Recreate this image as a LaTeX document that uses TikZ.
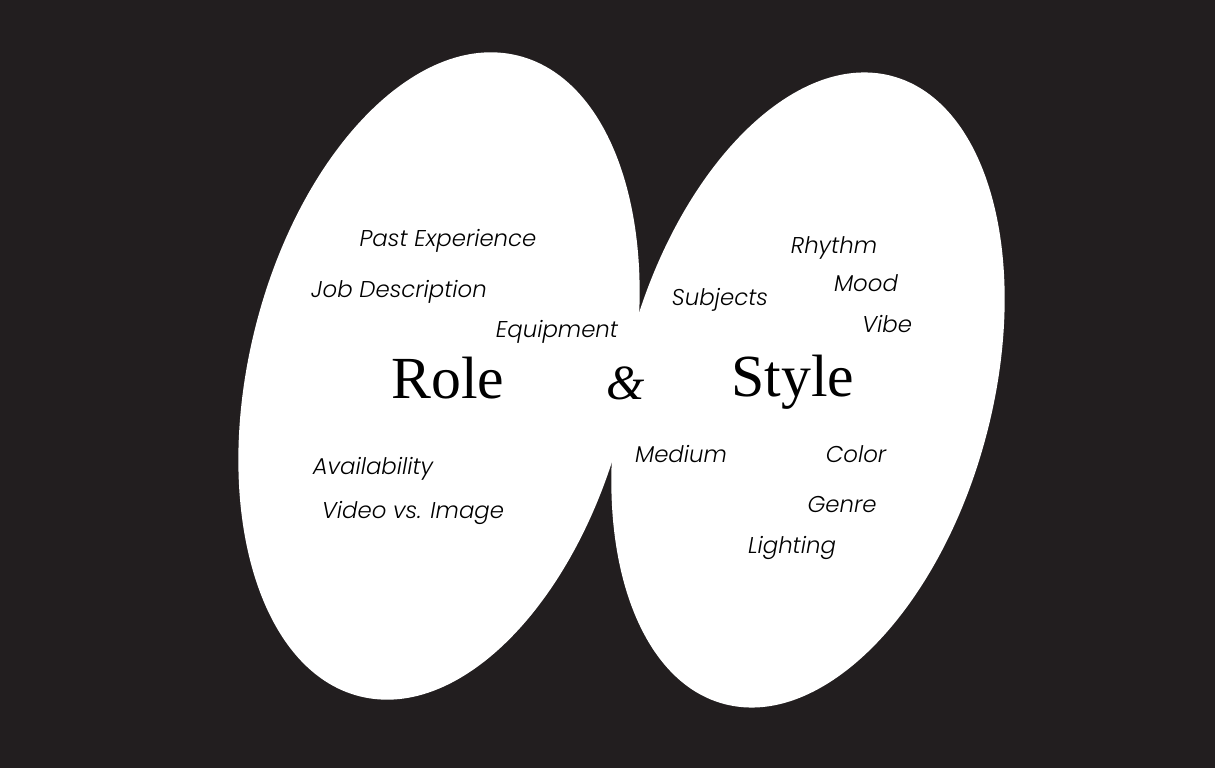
\documentclass[tikz,border=0pt]{standalone}
\usepackage{fontspec}
\setmainfont{Liberation Serif}
\newfontfamily\tagfont{Poppins}[UprightFont=* Light, ItalicFont=* Light Italic]
\usepackage{xcolor}
\usepackage{tikz}
\usetikzlibrary{positioning}

\definecolor{bgdark}{RGB}{34,30,31}
\tikzset{
  blob/.style={fill=white, draw=none},
  tag/.style={font=\tagfont\itshape\fontsize{13}{15}\selectfont, text=black, inner sep=0pt},
  title/.style={font=\fontsize{34}{38}\selectfont, text=black, inner sep=0pt}
}

\begin{document}
\begin{tikzpicture}[x=0.02cm, y=0.02cm]
  % Background
  \fill[bgdark] (0,0) rectangle (1215,768);
  \useasboundingbox (0,0) rectangle (1215,768);
  % Ellipses
  \fill[blob, rotate around={-13.8:(439,392)}] (439,392) ellipse [x radius=190, y radius=330];
  \fill[blob, rotate around={-15:(808,378)}] (808,378) ellipse [x radius=184, y radius=325];
  % Titles
  \node[title] (role) at (448,768-378) {Role};
  \node[title] (style) at (793,768-382) {Style};
  \node[title, font=\fontsize{28}{32}\selectfont] (amp) at (626,768-383) {\textit{\&}};
  % Left tags
  \foreach \n/\x/\y/\lab in {past/448/241/Past Experience, job/399/292/Job Description,
      equip/557/332/Equipment, avail/373/469/Availability, video/413/513/Video vs. Image} {
    \node[tag] (\n) at (\x,768-\y) {\lab};
  }
  % Right tags
  \foreach \n/\x/\y/\lab in {rhythm/834/248/Rhythm, mood/866/283/Mood, vibe/887/324/Vibe,
      subj/720/300/Subjects, medium/681/454/Medium, color/856/454/Color,
      genre/842/505/Genre, light/792/548/Lighting} {
    \node[tag] (\n) at (\x,768-\y) {\lab};
  }
\end{tikzpicture}
\end{document}
